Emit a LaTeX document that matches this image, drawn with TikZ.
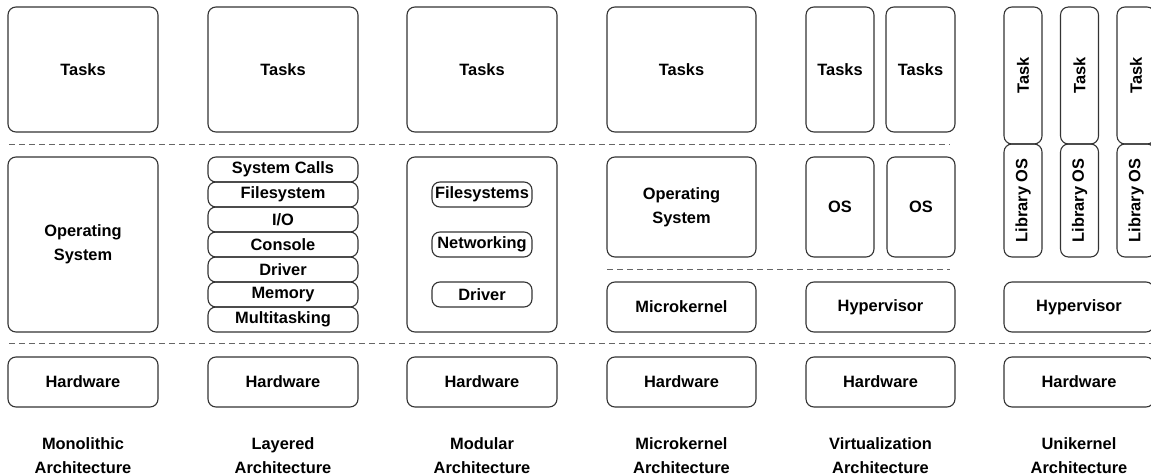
\documentclass[tikz,border=0pt]{standalone}
\usepackage{fontspec}
\setmainfont{Liberation Sans}
\newcommand\archbox[6]{%
  \node[box, minimum width={#4-#2}, minimum height={#5-#3}] (#1) at ({(#2+#4)/2},{(#3+#5)/2}) {#6};}
\begin{document}
\begin{tikzpicture}[x=1pt,y=-1pt,
  box/.style={draw=black!80, line width=1.1pt, rounded corners=8pt, inner sep=0pt, align=center,
    font=\fontsize{16.4}{24}\selectfont\bfseries},
  lbl/.style={inner sep=0pt, align=center, font=\fontsize{16.4}{24}\selectfont\bfseries},
  vbox/.style={box, rotate=90},
  sep/.style={draw=black!60, line width=1pt, dash pattern=on 5.5pt off 4.5pt}]
\clip (0,0) rectangle (1151,476);
% separators
\coordinate (s1a) at (9,145);  \coordinate (s1b) at (950,145);
\coordinate (s2a) at (607,269); \coordinate (s2b) at (950,269);
\coordinate (s3a) at (9,343);  \coordinate (s3b) at (1151,343);
\draw[sep] (s1a) -- (s1b);
\draw[sep] (s2a) -- (s2b);
\draw[sep] (s3a) -- (s3b);
% Monolithic
\archbox{mtask}{8}{7}{158}{132}{Tasks}
\archbox{mos}{8}{157}{158}{332}{Operating\\System}
\archbox{mhw}{8}{357}{158}{407}{Hardware}
\node[lbl] (mlbl) at (83,456) {Monolithic\\Architecture};
% Layered
\archbox{ltask}{208}{7}{358}{132}{Tasks}
\archbox{lsc}{208}{157}{358}{182}{System Calls}
\archbox{lfs}{208}{182}{358}{207}{Filesystem}
\archbox{lio}{208}{207}{358}{232}{I/O}
\archbox{lcon}{208}{232}{358}{257}{Console}
\archbox{ldrv}{208}{257}{358}{282}{Driver}
\archbox{lmem}{208}{282}{358}{307}{Memory}
\archbox{lmt}{208}{307}{358}{332}{Multitasking}
\archbox{lhw}{208}{357}{358}{407}{Hardware}
\node[lbl] (llbl) at (283,456) {Layered\\Architecture};
% Modular
\archbox{dtask}{407}{7}{557}{132}{Tasks}
\archbox{dos}{407}{157}{557}{332}{}
\archbox{dfs}{432}{182}{532}{207}{Filesystems}
\archbox{dnet}{432}{232}{532}{257}{Networking}
\archbox{ddrv}{432}{282}{532}{307}{Driver}
\archbox{dhw}{407}{357}{557}{407}{Hardware}
\node[lbl] (dlbl) at (482,456) {Modular\\Architecture};
% Microkernel
\archbox{ktask}{607}{7}{756}{132}{Tasks}
\archbox{kos}{607}{157}{756}{257}{Operating\\System}
\archbox{kmk}{607}{282}{756}{332}{Microkernel}
\archbox{khw}{607}{357}{756}{407}{Hardware}
\node[lbl] (klbl) at (681.5,456) {Microkernel\\Architecture};
% Virtualization
\archbox{vtaska}{806}{7}{874}{132}{Tasks}
\archbox{vtaskb}{886}{7}{955}{132}{Tasks}
\archbox{vosa}{806}{157}{874}{257}{OS}
\archbox{vosb}{887}{157}{955}{257}{OS}
\archbox{vhv}{806}{282}{955}{332}{Hypervisor}
\archbox{vhw}{806}{357}{955}{407}{Hardware}
\node[lbl] (vlbl) at (880.5,456) {Virtualization\\Architecture};
% Unikernel
\node[vbox, minimum width=137, minimum height=38] (utaska) at (1023,75.5) {Task};
\node[vbox, minimum width=137, minimum height=38] (utaskb) at (1079.5,75.5) {Task};
\node[vbox, minimum width=137, minimum height=38] (utaskc) at (1136,75.5) {Task};
\node[vbox, minimum width=113, minimum height=38] (ulosa) at (1023,200.5) {Library OS};
\node[vbox, minimum width=113, minimum height=38] (ulosb) at (1079.5,200.5) {Library OS};
\node[vbox, minimum width=113, minimum height=38] (ulosc) at (1136,200.5) {Library OS};
\archbox{uhv}{1004}{282}{1154}{332}{Hypervisor}
\archbox{uhw}{1004}{357}{1154}{407}{Hardware}
\node[lbl] (ulbl) at (1079,456) {Unikernel\\Architecture};
\end{tikzpicture}
\end{document}
